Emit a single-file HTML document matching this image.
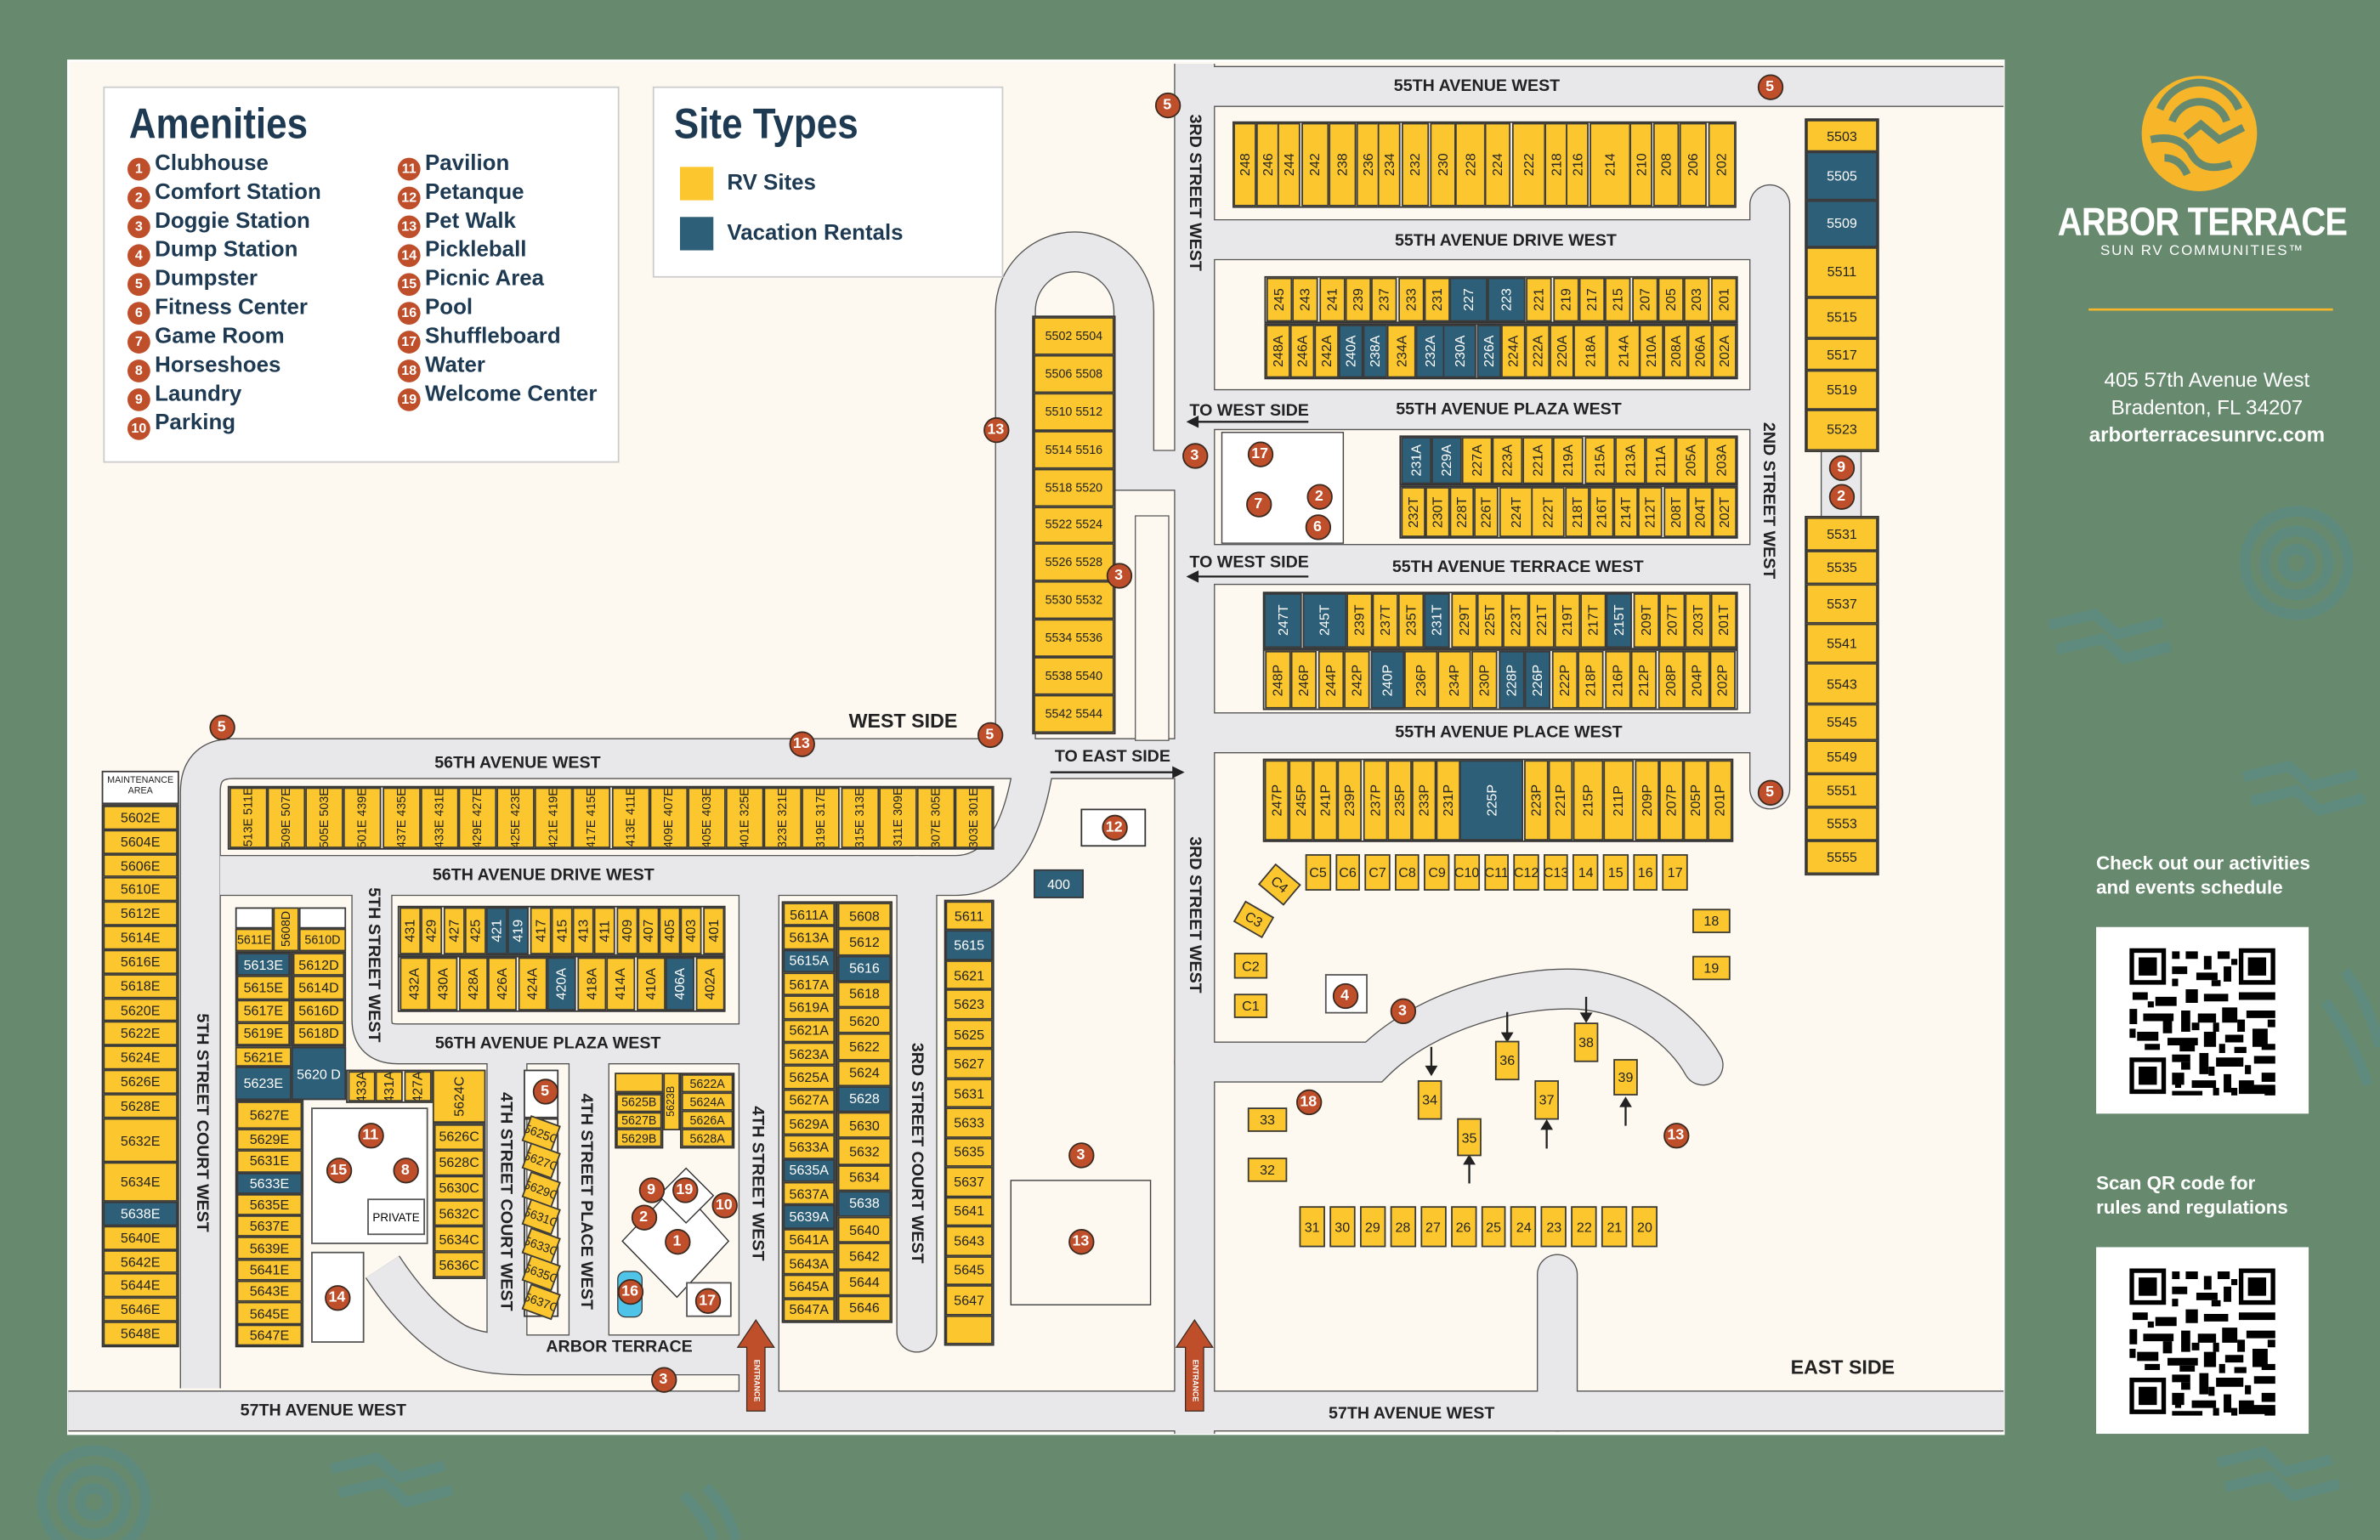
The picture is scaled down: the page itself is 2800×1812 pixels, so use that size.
<!DOCTYPE html>
<html><head><meta charset="utf-8"><style>
*{margin:0;padding:0;box-sizing:border-box}
body{width:2800px;height:1812px;overflow:hidden;background:#678a6f}
#w{position:absolute;left:0;top:0;width:1568px;height:1015px;transform:scale(1.78571,1.78522);transform-origin:0 0;font-family:"Liberation Sans Narrow","Liberation Sans",sans-serif}
.r{position:absolute;display:flex;border:.6px solid #333}
.c{flex-direction:column}
.r>i,.a{flex:1;background:#fcc72e;border:.5px solid #3a3a3a;font-style:normal;display:flex;align-items:center;justify-content:center;font-size:9px;color:#222;overflow:hidden;white-space:nowrap}
.v>i{writing-mode:vertical-rl;transform:rotate(180deg)}
.r>i.b,.a.b{background:#2e5f78;color:#fff}
.g{border:none;gap:3px}
.a{position:absolute}
.m{position:absolute;width:17px;height:17px;margin:-8.5px 0 0 -8.5px;border-radius:50%;background:#bf4f2a;border:1px solid #3a2a20;color:#fff;font:bold 10px "Liberation Sans Narrow","Liberation Sans",sans-serif;text-align:center;line-height:15px}
.s{position:absolute;font-weight:bold;font-size:11px;color:#222;white-space:nowrap;transform:translate(-50%,-50%)}
.sv{transform:translate(-50%,-50%) rotate(90deg)}
.bx{position:absolute;background:#fff;border:1px solid #555}
.am{position:absolute;font:bold 14.5px "Liberation Sans",sans-serif;color:#1e3a52;white-space:nowrap}
.am b{display:inline-block;width:15px;height:15px;border-radius:50%;background:#bf4f2a;color:#fff;font:bold 9px "Liberation Sans Narrow","Liberation Sans",sans-serif;text-align:center;line-height:15px;margin-right:3px;vertical-align:-2px}
.d>i{font-size:8px}
</style></head><body><div id="w">
<svg width="1568" height="1015" style="position:absolute;left:0;top:0">
<g fill="none" stroke="#5c8a84" stroke-width="7" opacity=".7">
<circle cx="1513" cy="371" r="34"/><circle cx="1513" cy="371" r="21"/><circle cx="1513" cy="371" r="9"/>
<circle cx="62" cy="990" r="34"/><circle cx="62" cy="990" r="21"/><circle cx="62" cy="990" r="9"/>
<path d="M1350 412 L1380 405 L1395 418 L1425 410 M1355 428 L1385 421 L1400 434 L1430 426"/>
<path d="M1478 512 L1508 505 L1523 518 L1553 510 M1483 528 L1513 521 L1528 534 L1558 526"/>
<path d="M218 968 L248 961 L263 974 L293 966 M223 984 L253 977 L268 990 L298 982"/>
<path d="M1461 964 L1491 957 L1506 970 L1536 962 M1466 980 L1496 973 L1511 986 L1541 978"/>
<path d="M1545 640 Q1560 660 1568 690 M1532 660 Q1550 685 1560 715"/>
<path d="M465 980 Q480 995 485 1015 M450 985 Q465 1000 470 1015"/>
</g>
<rect x="45" y="40" width="1275" height="905" fill="#fdf8f0" stroke="#fff" stroke-width="1.5"/>
<defs><g id="rd" fill="none">
<path d="M787 42V945"/><path d="M787 57H1320"/><path d="M1166 520V135" stroke-linecap="round"/>
<path d="M787 158H1166"/><path d="M787 270H1166"/><path d="M787 372H1166"/><path d="M787 483H1166"/>
<path d="M45 930H1320"/>
<path d="M787 700H905C940 665 1000 650 1040 652C1080 655 1110 680 1122 702" stroke-linecap="round"/>
<path d="M1026 840V930" stroke-linecap="round"/>
<path d="M669 505V205A39 39 0 0 1 747 205V310H787"/>
<path d="M132 915V522Q132 500 154 500H787"/>
<path d="M145 577H630Q668 577 680 510"/>
<path d="M245 577V672Q245 688 262 688H500"/>
<path d="M500 577V930"/><path d="M604 577V878" stroke-linecap="round"/>
<path d="M334 700V888"/><path d="M388 700V888"/>
<path d="M252 835Q275 870 300 885Q315 893 345 893H500"/>
<path d="M1213 290V345"/>
</g></defs>
<use href="#rd" stroke="#555" stroke-width="27"/>
<use href="#rd" stroke="#e8e8ea" stroke-width="25.5"/>
<rect x="748" y="340" width="22" height="148" fill="#fdf8f0" stroke="#555" stroke-width=".7"/>
<rect x="666" y="778" width="92" height="82" fill="#fdf8f0" stroke="#444" stroke-width=".8"/>
<rect x="805" y="285" width="80" height="73" fill="#fff" stroke="#444" stroke-width=".8"/>
<g fill="#fff" stroke="#333" stroke-width=".8">
<polygon points="446,780 480,818 446,855 410,818"/><polygon points="452,770 470,788 452,806 434,788"/>
</g>
<rect x="407" y="838" width="16" height="30" rx="5" fill="#4fc3e8" stroke="#333" stroke-width=".7"/>
<g stroke="#222" stroke-width="1.3" fill="#222">
<path d="M783 278H862"/><path d="M783 278l6-3v6z"/>
<path d="M783 380H862"/><path d="M783 380l6-3v6z"/>
<path d="M692 509H779"/><path d="M779 509l-6-3v6z"/>
<path d="M943 690V705"/><path d="M943 708l-3-5h6z"/><path d="M993 667V683"/><path d="M993 686l-3-5h6z"/><path d="M1045 657V670"/><path d="M1045 673l-3-5h6z"/>
<path d="M968 765V780"/><path d="M968 762l-3 5h6z"/><path d="M1019 742V757"/><path d="M1019 739l-3 5h6z"/><path d="M1071 727V742"/><path d="M1071 724l-3 5h6z"/>
</g>
<g fill="#bf4f2a" stroke="#3a2a20" stroke-width=".7">
<path d="M498 870L510 888H504V930H492V888H486Z"/><path d="M787 870L799 888H793V930H781V888H775Z"/>
</g>
<circle cx="1449" cy="88" r="38" fill="#f7b52a"/>
<g fill="none" stroke="#678a6f" stroke-width="5">
<path d="M1423 72A28 28 0 0 1 1475 72"/><path d="M1431 80A19 19 0 0 1 1467 80"/>
<path d="M1417 92Q1435 88 1443 100Q1450 115 1470 108"/><path d="M1426 104Q1436 104 1441 115"/>
<path d="M1440 90L1450 82L1462 92L1478 84"/>
</g>
<line x1="1376" y1="204" x2="1537" y2="204" stroke="#f7b52a" stroke-width="1.5"/>
<rect x="1381" y="611" width="140" height="123" fill="#fff"/><rect x="1381" y="822" width="140" height="123" fill="#fff"/>
<g fill="#000">
<g id="qr"><path d="M1403 625h24v24h-24zM1475 625h24v24h-24zM1403 697h24v24h-24z"/>
<path d="M1431 627h5v5h-5zM1440 627h8v5h-8zM1452 630h5v9h-5zM1461 627h8v5h-8zM1431 637h10v5h-10zM1447 641h14v5h-14zM1465 637h5v10h-5zM1405 654h10v5h-10zM1420 657h14v6h-14zM1440 652h8v9h-8zM1452 655h16v5h-16zM1475 654h24v5h-24zM1403 665h5v10h-5zM1412 668h20v5h-20zM1437 666h6v14h-6zM1448 668h12v6h-12zM1464 664h10v10h-10zM1480 666h19v5h-19zM1408 680h14v6h-14zM1428 684h20v5h-20zM1452 680h8v10h-8zM1466 682h12v5h-12zM1484 678h10v12h-10zM1431 695h12v5h-12zM1449 694h6v14h-6zM1460 697h18v6h-18zM1485 696h14v5h-14zM1431 707h8v8h-8zM1444 712h16v5h-16zM1465 708h5v12h-5zM1475 712h10v9h-10zM1490 707h9v6h-9zM1431 719h20v3h-20zM1480 715h19v6h-19z"/>
<path d="M1431 645h4v5h-4zM1457 646h6v4h-6zM1470 632h4v4h-4zM1415 660h4v4h-4zM1425 673h6v8h-6zM1444 674h5v5h-5zM1458 674h4v6h-4zM1474 672h5v8h-5zM1494 672h5v5h-5zM1403 678h4v6h-4zM1413 688h10v4h-10zM1436 689h10v4h-10zM1462 688h4v6h-4zM1472 690h8v4h-8zM1490 688h9v4h-9zM1437 700h6v5h-6zM1455 703h4v6h-4zM1479 702h4v6h-4zM1433 713h4v4h-4zM1458 717h4v5h-4zM1470 717h4v5h-4zM1492 718h7v4h-7z"/></g>
<use href="#qr" y="211"/>
</g>
<g fill="#fff"><path d="M1406 628h18v18h-18zM1478 628h18v18h-18zM1406 700h18v18h-18z"/><path d="M1406 839h18v18h-18zM1478 839h18v18h-18zM1406 911h18v18h-18z"/></g>
<g fill="#000"><path d="M1409 631h12v12h-12zM1481 631h12v12h-12zM1409 703h12v12h-12zM1409 842h12v12h-12zM1481 842h12v12h-12zM1409 914h12v12h-12z"/></g>
</svg>

<div style="position:absolute;left:1301px;top:131px;width:300px;text-align:center;color:#fff;font:bold 26px 'Liberation Sans',sans-serif;white-space:nowrap;transform:scaleX(.86);letter-spacing:-.5px">ARBOR TERRACE</div>
<div style="position:absolute;left:1351px;top:160px;width:200px;text-align:center;color:#fff;font:9.5px 'Liberation Sans',sans-serif;letter-spacing:1px;white-space:nowrap">SUN RV COMMUNITIES™</div>
<div style="position:absolute;left:1354px;top:242px;width:200px;text-align:center;color:#fff;font:13.5px/18px 'Liberation Sans',sans-serif">405 57th Avenue West<br>Bradenton, FL 34207<br><b>arborterracesunrvc.com</b></div>
<div style="position:absolute;left:1381px;top:561px;color:#fff;font:bold 12.5px/16px 'Liberation Sans',sans-serif">Check out our activities<br>and events schedule</div>
<div style="position:absolute;left:1381px;top:772px;color:#fff;font:bold 12.5px/16px 'Liberation Sans',sans-serif">Scan QR code for<br>rules and regulations</div>

<div class="bx" style="left:68px;top:57px;width:340px;height:248px;border-color:#ccc"></div>
<div style="position:absolute;left:85px;top:66px;font:bold 28px 'Liberation Sans',sans-serif;color:#1e3a52;transform:scaleX(.88);transform-origin:0 0">Amenities</div>
<div class="am" style="left:84px;top:100px"><b>1</b>Clubhouse</div>
<div class="am" style="left:84px;top:119px"><b>2</b>Comfort Station</div>
<div class="am" style="left:84px;top:138px"><b>3</b>Doggie Station</div>
<div class="am" style="left:84px;top:157px"><b>4</b>Dump Station</div>
<div class="am" style="left:84px;top:176px"><b>5</b>Dumpster</div>
<div class="am" style="left:84px;top:195px"><b>6</b>Fitness Center</div>
<div class="am" style="left:84px;top:214px"><b>7</b>Game Room</div>
<div class="am" style="left:84px;top:233px"><b>8</b>Horseshoes</div>
<div class="am" style="left:84px;top:252px"><b>9</b>Laundry</div>
<div class="am" style="left:84px;top:271px"><b>10</b>Parking</div>
<div class="am" style="left:262px;top:100px"><b>11</b>Pavilion</div>
<div class="am" style="left:262px;top:119px"><b>12</b>Petanque</div>
<div class="am" style="left:262px;top:138px"><b>13</b>Pet Walk</div>
<div class="am" style="left:262px;top:157px"><b>14</b>Pickleball</div>
<div class="am" style="left:262px;top:176px"><b>15</b>Picnic Area</div>
<div class="am" style="left:262px;top:195px"><b>16</b>Pool</div>
<div class="am" style="left:262px;top:214px"><b>17</b>Shuffleboard</div>
<div class="am" style="left:262px;top:233px"><b>18</b>Water</div>
<div class="am" style="left:262px;top:252px"><b>19</b>Welcome Center</div>
<div class="bx" style="left:430px;top:57px;width:231px;height:126px;border-color:#ccc"></div>
<div style="position:absolute;left:444px;top:66px;font:bold 28px 'Liberation Sans',sans-serif;color:#1e3a52;transform:scaleX(.88);transform-origin:0 0">Site Types</div>
<div style="position:absolute;left:448px;top:110px;width:22px;height:22px;background:#fcc72e"></div>
<div style="position:absolute;left:448px;top:143px;width:22px;height:22px;background:#2e5f78"></div>
<div class="am" style="left:479px;top:113px">RV Sites</div>
<div class="am" style="left:479px;top:146px">Vacation Rentals</div>

<div class="r v" style="left:812px;top:80px;width:332px;height:57px;font-size:10px"><i>248</i><i>246</i><i>244</i><i style="flex:1.3">242</i><i style="flex:1.3">238</i><i>236</i><i>234</i><i style="flex:1.3">232</i><i style="flex:1.2">230</i><i style="flex:1.4">228</i><i style="flex:1.2">224</i><i style="flex:1.6">222</i><i>218</i><i>216</i><i style="flex:2">214</i><i>210</i><i style="flex:1.2">208</i><i style="flex:1.3">206</i><i style="flex:1.3">202</i></div>
<div class="r v" style="left:833px;top:182px;width:312px;height:31px"><i>245</i><i>243</i><i>241</i><i>239</i><i>237</i><i>233</i><i>231</i><i class="b" style="flex:1.5">227</i><i class="b" style="flex:1.5">223</i><i>221</i><i>219</i><i>217</i><i>215</i><i>207</i><i>205</i><i>203</i><i>201</i></div>
<div class="r v" style="left:833px;top:213px;width:312px;height:37px"><i>248A</i><i>246A</i><i>242A</i><i class="b">240A</i><i class="b">238A</i><i style="flex:1.2">234A</i><i class="b" style="flex:1.2">232A</i><i class="b" style="flex:1.4">230A</i><i class="b">226A</i><i>224A</i><i>222A</i><i>220A</i><i style="flex:1.4">218A</i><i style="flex:1.4">214A</i><i>210A</i><i>208A</i><i>206A</i><i>202A</i></div>
<div class="r v" style="left:922px;top:287px;width:223px;height:33px"><i class="b">231A</i><i class="b">229A</i><i>227A</i><i>223A</i><i>221A</i><i>219A</i><i>215A</i><i>213A</i><i>211A</i><i>205A</i><i>203A</i></div>
<div class="r v" style="left:922px;top:320px;width:223px;height:35px"><i>232T</i><i>230T</i><i>228T</i><i>226T</i><i style="flex:1.4">224T</i><i style="flex:1.4">222T</i><i>218T</i><i>216T</i><i>214T</i><i>212T</i><i>208T</i><i>204T</i><i>202T</i></div>
<div class="r v" style="left:832px;top:390px;width:313px;height:38px"><i class="b" style="flex:1.5">247T</i><i class="b" style="flex:1.8">245T</i><i>239T</i><i>237T</i><i>235T</i><i class="b">231T</i><i>229T</i><i>225T</i><i>223T</i><i>221T</i><i>219T</i><i>217T</i><i class="b">215T</i><i>209T</i><i>207T</i><i>203T</i><i>201T</i></div>
<div class="r v" style="left:832px;top:428px;width:313px;height:40px"><i>248P</i><i>246P</i><i>244P</i><i>242P</i><i class="b" style="flex:1.3">240P</i><i style="flex:1.3">236P</i><i style="flex:1.3">234P</i><i>230P</i><i class="b">228P</i><i class="b">226P</i><i>222P</i><i>218P</i><i>216P</i><i>212P</i><i>208P</i><i>204P</i><i>202P</i></div>
<div class="r v" style="left:832px;top:500px;width:310px;height:55px"><i>247P</i><i>245P</i><i>241P</i><i>239P</i><i>237P</i><i>235P</i><i>233P</i><i>231P</i><i class="b" style="flex:2.8">225P</i><i>223P</i><i>221P</i><i style="flex:1.3">215P</i><i style="flex:1.3">211P</i><i>209P</i><i>207P</i><i>205P</i><i>201P</i></div>
<div class="r g" style="left:860px;top:563px;width:252px;height:24px"><i>C5</i><i>C6</i><i>C7</i><i>C8</i><i>C9</i><i>C10</i><i>C11</i><i>C12</i><i>C13</i><i>14</i><i>15</i><i>16</i><i>17</i></div>
<div class="a" style="left:832px;top:574px;width:22px;height:18px;transform:rotate(40deg)">C4</div>
<div class="a" style="left:815px;top:598px;width:22px;height:16px;transform:rotate(30deg)">C3</div>
<div class="a" style="left:813px;top:628px;width:22px;height:17px">C2</div>
<div class="a" style="left:813px;top:655px;width:22px;height:16px">C1</div>
<div class="a" style="left:1115px;top:599px;width:25px;height:16px">18</div>
<div class="a" style="left:1115px;top:630px;width:25px;height:16px">19</div>
<div class="bx" style="left:873px;top:642px;width:28px;height:26px"></div>
<div class="a" style="left:822px;top:730px;width:26px;height:16px">33</div>
<div class="a" style="left:822px;top:763px;width:26px;height:16px">32</div>
<div class="a" style="left:934px;top:712px;width:16px;height:26px">34</div>
<div class="a" style="left:960px;top:737px;width:16px;height:25px">35</div>
<div class="a" style="left:985px;top:686px;width:16px;height:26px">36</div>
<div class="a" style="left:1011px;top:712px;width:16px;height:26px">37</div>
<div class="a" style="left:1037px;top:674px;width:16px;height:26px">38</div>
<div class="a" style="left:1063px;top:698px;width:16px;height:24px">39</div>
<div class="r g" style="left:856px;top:795px;width:236px;height:27px"><i>31</i><i>30</i><i>29</i><i>28</i><i>27</i><i>26</i><i>25</i><i>24</i><i>23</i><i>22</i><i>21</i><i>20</i></div>
<div class="r c" style="left:1189px;top:78px;width:49px;height:220px"><i>5503</i><i class="b" style="flex:1.5">5505</i><i class="b" style="flex:1.5">5509</i><i style="flex:1.6">5511</i><i style="flex:1.3">5515</i><i>5517</i><i style="flex:1.2">5519</i><i style="flex:1.3">5523</i></div>
<div class="r c" style="left:1189px;top:340px;width:49px;height:237px"><i>5531</i><i>5535</i><i style="flex:1.2">5537</i><i style="flex:1.2">5541</i><i style="flex:1.3">5543</i><i style="flex:1.1">5545</i><i>5549</i><i>5551</i><i>5553</i><i>5555</i></div>

<div class="r c d" style="left:680px;top:208px;width:55px;height:276px"><i>5502 5504</i><i>5506 5508</i><i>5510 5512</i><i>5514 5516</i><i>5518 5520</i><i>5522 5524</i><i>5526 5528</i><i>5530 5532</i><i>5534 5536</i><i>5538 5540</i><i>5542 5544</i></div>
<div class="a b" style="left:681px;top:573px;width:33px;height:19px">400</div>
<div class="bx" style="left:712px;top:533px;width:43px;height:25px;border-color:#333"></div>
<div class="a" style="left:67px;top:508px;width:51px;height:22px;background:#fff;font-size:6px;white-space:normal;text-align:center;line-height:7px">MAINTENANCE AREA</div>
<div class="r c" style="left:67px;top:530px;width:51px;height:358px"><i>5602E</i><i>5604E</i><i>5606E</i><i>5610E</i><i>5612E</i><i>5614E</i><i>5616E</i><i>5618E</i><i>5620E</i><i>5622E</i><i>5624E</i><i>5626E</i><i>5628E</i><i style="flex:2">5632E</i><i style="flex:1.7">5634E</i><i class="b">5638E</i><i>5640E</i><i>5642E</i><i>5644E</i><i>5646E</i><i>5648E</i></div>
<div class="r v d" style="left:150px;top:518px;width:505px;height:42px"><i>513E 511E</i><i>509E 507E</i><i>505E 503E</i><i>501E 439E</i><i>437E 435E</i><i>433E 431E</i><i>429E 427E</i><i>425E 423E</i><i>421E 419E</i><i>417E 415E</i><i>413E 411E</i><i>409E 407E</i><i>405E 403E</i><i>401E 325E</i><i>323E 321E</i><i>319E 317E</i><i>315E 313E</i><i>311E 309E</i><i>307E 305E</i><i>303E 301E</i></div>
<div class="r v" style="left:262px;top:597px;width:216px;height:33px"><i>431</i><i>429</i><i>427</i><i>425</i><i class="b">421</i><i class="b">419</i><i>417</i><i>415</i><i>413</i><i>411</i><i>409</i><i>407</i><i>405</i><i>403</i><i>401</i></div>
<div class="r v" style="left:262px;top:630px;width:216px;height:37px"><i>432A</i><i>430A</i><i>428A</i><i>426A</i><i>424A</i><i class="b">420A</i><i>418A</i><i>414A</i><i>410A</i><i class="b">406A</i><i>402A</i></div>
<div class="a" style="left:155px;top:598px;width:25px;height:14px;background:#fff"></div>
<div class="a" style="left:197px;top:598px;width:31px;height:14px;background:#fff"></div>
<div class="a" style="left:180px;top:598px;width:17px;height:29px;writing-mode:vertical-rl;transform:rotate(180deg);font-size:8px">5608D</div>
<div class="a" style="left:155px;top:612px;width:25px;height:15px;font-size:8px">5611E</div>
<div class="a" style="left:197px;top:612px;width:31px;height:15px;font-size:8px">5610D</div>
<div class="r c" style="left:155px;top:627px;width:37px;height:63px;font-size:8px"><i class="b">5613E</i><i>5615E</i><i>5617E</i><i>5619E</i></div>
<div class="r c" style="left:192px;top:627px;width:36px;height:63px"><i>5612D</i><i>5614D</i><i>5616D</i><i>5618D</i></div>
<div class="a" style="left:155px;top:690px;width:37px;height:13px">5621E</div>
<div class="a b" style="left:192px;top:690px;width:36px;height:35px;white-space:normal;text-align:center">5620 D</div>
<div class="a b" style="left:155px;top:703px;width:37px;height:22px">5623E</div>
<div class="r c" style="left:155px;top:725px;width:45px;height:163px"><i style="flex:1.3">5627E</i><i>5629E</i><i>5631E</i><i class="b">5633E</i><i>5635E</i><i>5637E</i><i>5639E</i><i>5641E</i><i>5643E</i><i>5645E</i><i>5647E</i></div>
<div class="r v" style="left:228px;top:705px;width:57px;height:22px"><i>433A</i><i>431A</i><i>427A</i></div>
<div class="a" style="left:285px;top:705px;width:35px;height:35px;writing-mode:vertical-rl;transform:rotate(180deg)">5624C</div>
<div class="r c" style="left:285px;top:740px;width:35px;height:103px"><i>5626C</i><i>5628C</i><i>5630C</i><i>5632C</i><i>5634C</i><i>5636C</i></div>
<div class="bx" style="left:205px;top:730px;width:77px;height:90px"></div>
<div class="bx" style="left:242px;top:790px;width:38px;height:24px;font-size:7.5px;display:flex;align-items:center;justify-content:center">PRIVATE</div>
<div class="bx" style="left:205px;top:825px;width:35px;height:60px"></div>
<div class="a" style="left:345px;top:705px;width:23px;height:32px;background:#fff"></div>
<div class="r c d" style="left:345px;top:737px;width:23px;height:131px"><i style="transform:rotate(20deg)">5625C</i><i style="transform:rotate(20deg)">5627C</i><i style="transform:rotate(20deg)">5629C</i><i style="transform:rotate(20deg)">5631C</i><i style="transform:rotate(20deg)">5633C</i><i style="transform:rotate(20deg)">5635C</i><i style="transform:rotate(20deg)">5637C</i></div>
<div class="a" style="left:405px;top:707px;width:32px;height:13px"></div>
<div class="a" style="left:437px;top:707px;width:11px;height:38px;writing-mode:vertical-rl;transform:rotate(180deg);font-size:7px">5623B</div>
<div class="r c d" style="left:405px;top:720px;width:32px;height:37px"><i>5625B</i><i>5627B</i><i>5629B</i></div>
<div class="r c d" style="left:448px;top:707px;width:36px;height:50px"><i>5622A</i><i>5624A</i><i>5626A</i><i>5628A</i></div>
<div class="bx" style="left:452px;top:845px;width:30px;height:23px"></div>
<div class="r c" style="left:515px;top:594px;width:36px;height:278px;font-size:8px"><i>5611A</i><i>5613A</i><i class="b">5615A</i><i>5617A</i><i>5619A</i><i>5621A</i><i>5623A</i><i>5625A</i><i>5627A</i><i>5629A</i><i>5633A</i><i class="b">5635A</i><i>5637A</i><i class="b">5639A</i><i>5641A</i><i>5643A</i><i>5645A</i><i>5647A</i></div>
<div class="r c" style="left:551px;top:594px;width:37px;height:278px"><i>5608</i><i>5612</i><i class="b">5616</i><i>5618</i><i>5620</i><i>5622</i><i>5624</i><i class="b">5628</i><i>5630</i><i>5632</i><i>5634</i><i class="b">5638</i><i>5640</i><i>5642</i><i>5644</i><i>5646</i></div>
<div class="r c" style="left:622px;top:593px;width:33px;height:294px"><i>5611</i><i class="b">5615</i><i>5621</i><i>5623</i><i>5625</i><i>5627</i><i>5631</i><i>5633</i><i>5635</i><i>5637</i><i>5641</i><i>5643</i><i>5645</i><i>5647</i><i></i></div>

<div class="s" style="left:973px;top:57px">55TH AVENUE WEST</div>
<div class="s sv" style="left:787px;top:127px">3RD STREET WEST</div>
<div class="s sv" style="left:787px;top:603px">3RD STREET WEST</div>
<div class="s" style="left:992px;top:159px">55TH AVENUE DRIVE WEST</div>
<div class="s" style="left:994px;top:270px">55TH AVENUE PLAZA WEST</div>
<div class="s" style="left:1000px;top:374px">55TH AVENUE TERRACE WEST</div>
<div class="s" style="left:994px;top:483px">55TH AVENUE PLACE WEST</div>
<div class="s sv" style="left:1165px;top:330px">2ND STREET WEST</div>
<div class="s" style="left:823px;top:271px">TO WEST SIDE</div>
<div class="s" style="left:823px;top:371px">TO WEST SIDE</div>
<div class="s" style="left:733px;top:499px">TO EAST SIDE</div>
<div class="s" style="left:595px;top:475px;font-size:13px">WEST SIDE</div>
<div class="s" style="left:341px;top:503px">56TH AVENUE WEST</div>
<div class="s" style="left:358px;top:577px">56TH AVENUE DRIVE WEST</div>
<div class="s" style="left:361px;top:688px">56TH AVENUE PLAZA WEST</div>
<div class="s sv" style="left:246px;top:636px">5TH STREET WEST</div>
<div class="s sv" style="left:133px;top:740px">5TH STREET COURT WEST</div>
<div class="s sv" style="left:333px;top:792px">4TH STREET COURT WEST</div>
<div class="s sv" style="left:386px;top:792px">4TH STREET PLACE WEST</div>
<div class="s sv" style="left:499px;top:780px">4TH STREET WEST</div>
<div class="s sv" style="left:604px;top:760px">3RD STREET COURT WEST</div>
<div class="s" style="left:408px;top:888px">ARBOR TERRACE</div>
<div class="s" style="left:213px;top:930px">57TH AVENUE WEST</div>
<div class="s" style="left:930px;top:932px">57TH AVENUE WEST</div>
<div class="s" style="left:1214px;top:901px;font-size:13px">EAST SIDE</div>
<div class="s sv" style="left:498px;top:910px;font-size:5px;color:#fff">ENTRANCE</div>
<div class="s sv" style="left:787px;top:910px;font-size:5px;color:#fff">ENTRANCE</div>

<div class="m" style="left:769px;top:69px">5</div>
<div class="m" style="left:1166px;top:57px">5</div>
<div class="m" style="left:656px;top:283px">13</div>
<div class="m" style="left:787px;top:300px">3</div>
<div class="m" style="left:830px;top:299px">17</div>
<div class="m" style="left:829px;top:332px">7</div>
<div class="m" style="left:869px;top:327px">2</div>
<div class="m" style="left:868px;top:347px">6</div>
<div class="m" style="left:737px;top:379px">3</div>
<div class="m" style="left:1213px;top:308px">9</div>
<div class="m" style="left:1213px;top:327px">2</div>
<div class="m" style="left:652px;top:484px">5</div>
<div class="m" style="left:528px;top:490px">13</div>
<div class="m" style="left:146px;top:479px">5</div>
<div class="m" style="left:1166px;top:522px">5</div>
<div class="m" style="left:734px;top:545px">12</div>
<div class="m" style="left:886px;top:656px">4</div>
<div class="m" style="left:924px;top:666px">3</div>
<div class="m" style="left:862px;top:726px">18</div>
<div class="m" style="left:1104px;top:748px">13</div>
<div class="m" style="left:712px;top:761px">3</div>
<div class="m" style="left:712px;top:818px">13</div>
<div class="m" style="left:244px;top:748px">11</div>
<div class="m" style="left:223px;top:771px">15</div>
<div class="m" style="left:267px;top:771px">8</div>
<div class="m" style="left:222px;top:855px">14</div>
<div class="m" style="left:359px;top:719px">5</div>
<div class="m" style="left:429px;top:784px">9</div>
<div class="m" style="left:451px;top:784px">19</div>
<div class="m" style="left:477px;top:794px">10</div>
<div class="m" style="left:424px;top:802px">2</div>
<div class="m" style="left:446px;top:818px">1</div>
<div class="m" style="left:415px;top:851px">16</div>
<div class="m" style="left:466px;top:857px">17</div>
<div class="m" style="left:437px;top:909px">3</div>
</div></body></html>
